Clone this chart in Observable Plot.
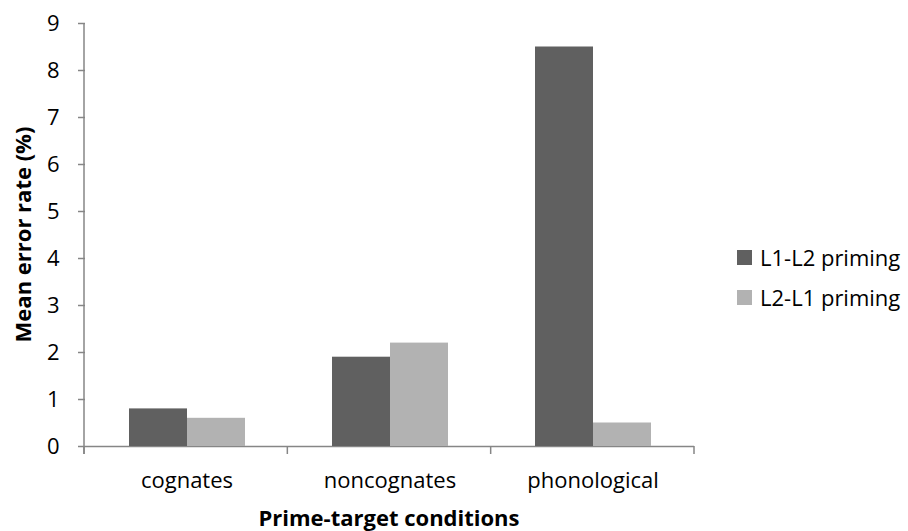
<!DOCTYPE html>
<html>
<head>
<meta charset="utf-8">
<script src="https://cdn.jsdelivr.net/npm/d3@7"></script>
<script src="https://cdn.jsdelivr.net/npm/@observablehq/plot@0.6"></script>
<style>
  html, body { margin: 0; padding: 0; background: #fff; }
  #wrap { position: relative; width: 908px; height: 531px; font-family: "Open Sans", sans-serif; }
  #legend { position: absolute; left: 737px; top: 245px; font-size: 22px; color: #000; }
  .item { display: flex; align-items: center; height: 24px; margin-bottom: 16px; white-space: nowrap; }
  .sw { width: 15px; height: 15px; margin-right: 8px; }
</style>
</head>
<body>
<div id="wrap"><div id="legend"></div></div>
<script>
const categories = ["cognates", "noncognates", "phonological"];
const seriesNames = ["L1-L2 priming", "L2-L1 priming"];
const l1l2Values = [0.8, 1.9, 8.5];
const l2l1Values = [0.6, 2.2, 0.5];
const yTicks = [0, 1, 2, 3, 4, 5, 6, 7, 8, 9];
const seriesColors = ["#606060", "#b2b2b2"];
const xTitle = "Prime-target conditions";
const yTitle = "Mean error rate (%)";

const data = categories.flatMap((c, i) => [
  {category: c, series: seriesNames[0], value: l1l2Values[i]},
  {category: c, series: seriesNames[1], value: l2l1Values[i]}
]);

const axisGray = "#868686";

const chart = Plot.plot({
  width: 908,
  height: 531,
  marginLeft: 84,
  marginRight: 214,
  marginTop: 23,
  marginBottom: 85,
  style: {fontFamily: "'Open Sans', sans-serif", fontSize: "22px", color: "#000", background: "#fff"},
  fx: {domain: categories, padding: 0, label: null},
  x: {domain: seriesNames, paddingInner: 0, paddingOuter: 0.74, axis: null},
  y: {domain: [0, 9], label: null},
  color: {domain: seriesNames, range: seriesColors},
  marks: [
    Plot.axisY({ticks: yTicks, tickSize: 7, tickPadding: 19, label: null, stroke: axisGray, strokeWidth: 1.5, fill: "#000", tickFormat: d => String(d)}),
    Plot.axisFx({anchor: "bottom", tickSize: 0, tickPadding: 26, label: null, fill: "#000"}),
    Plot.ruleY([0], {stroke: axisGray, strokeWidth: 1.5}),
    Plot.barY(data, {fx: "category", x: "series", y: "value", fill: "series"})
  ]
});

const svg = d3.select(chart);
const fxS = chart.scale("fx");
const yS = chart.scale("y");
const [xa, xb] = fxS.range;
const n = categories.length;
const step = (xb - xa) / n;
const y0 = yS.apply(0);
const yTop = yS.apply(yTicks[yTicks.length - 1]);

const g = svg.append("g").attr("stroke", axisGray).attr("stroke-width", 1.5);
g.append("line").attr("x1", xa).attr("x2", xa).attr("y1", yTop).attr("y2", y0 + 8);
for (let i = 0; i <= n; i++) {
  const x = xa + i * step;
  g.append("line").attr("x1", x).attr("x2", x).attr("y1", y0).attr("y2", y0 + 8);
}

svg.append("text")
  .attr("transform", `translate(31,${(yTop + y0) / 2}) rotate(-90)`)
  .attr("text-anchor", "middle")
  .attr("font-weight", "bold")
  .attr("font-size", 22)
  .attr("fill", "#000")
  .text(yTitle);

svg.append("text")
  .attr("x", (xa + xb) / 2)
  .attr("y", 526)
  .attr("text-anchor", "middle")
  .attr("font-weight", "bold")
  .attr("font-size", 22)
  .attr("fill", "#000")
  .text(xTitle);

const wrap = document.getElementById("wrap");
wrap.insertBefore(chart, wrap.firstChild);

const legend = d3.select("#legend");
seriesNames.forEach((s, i) => {
  const item = legend.append("div").attr("class", "item");
  item.append("div").attr("class", "sw").style("background", seriesColors[i]);
  item.append("span").text(s);
});
</script>
</body>
</html>
